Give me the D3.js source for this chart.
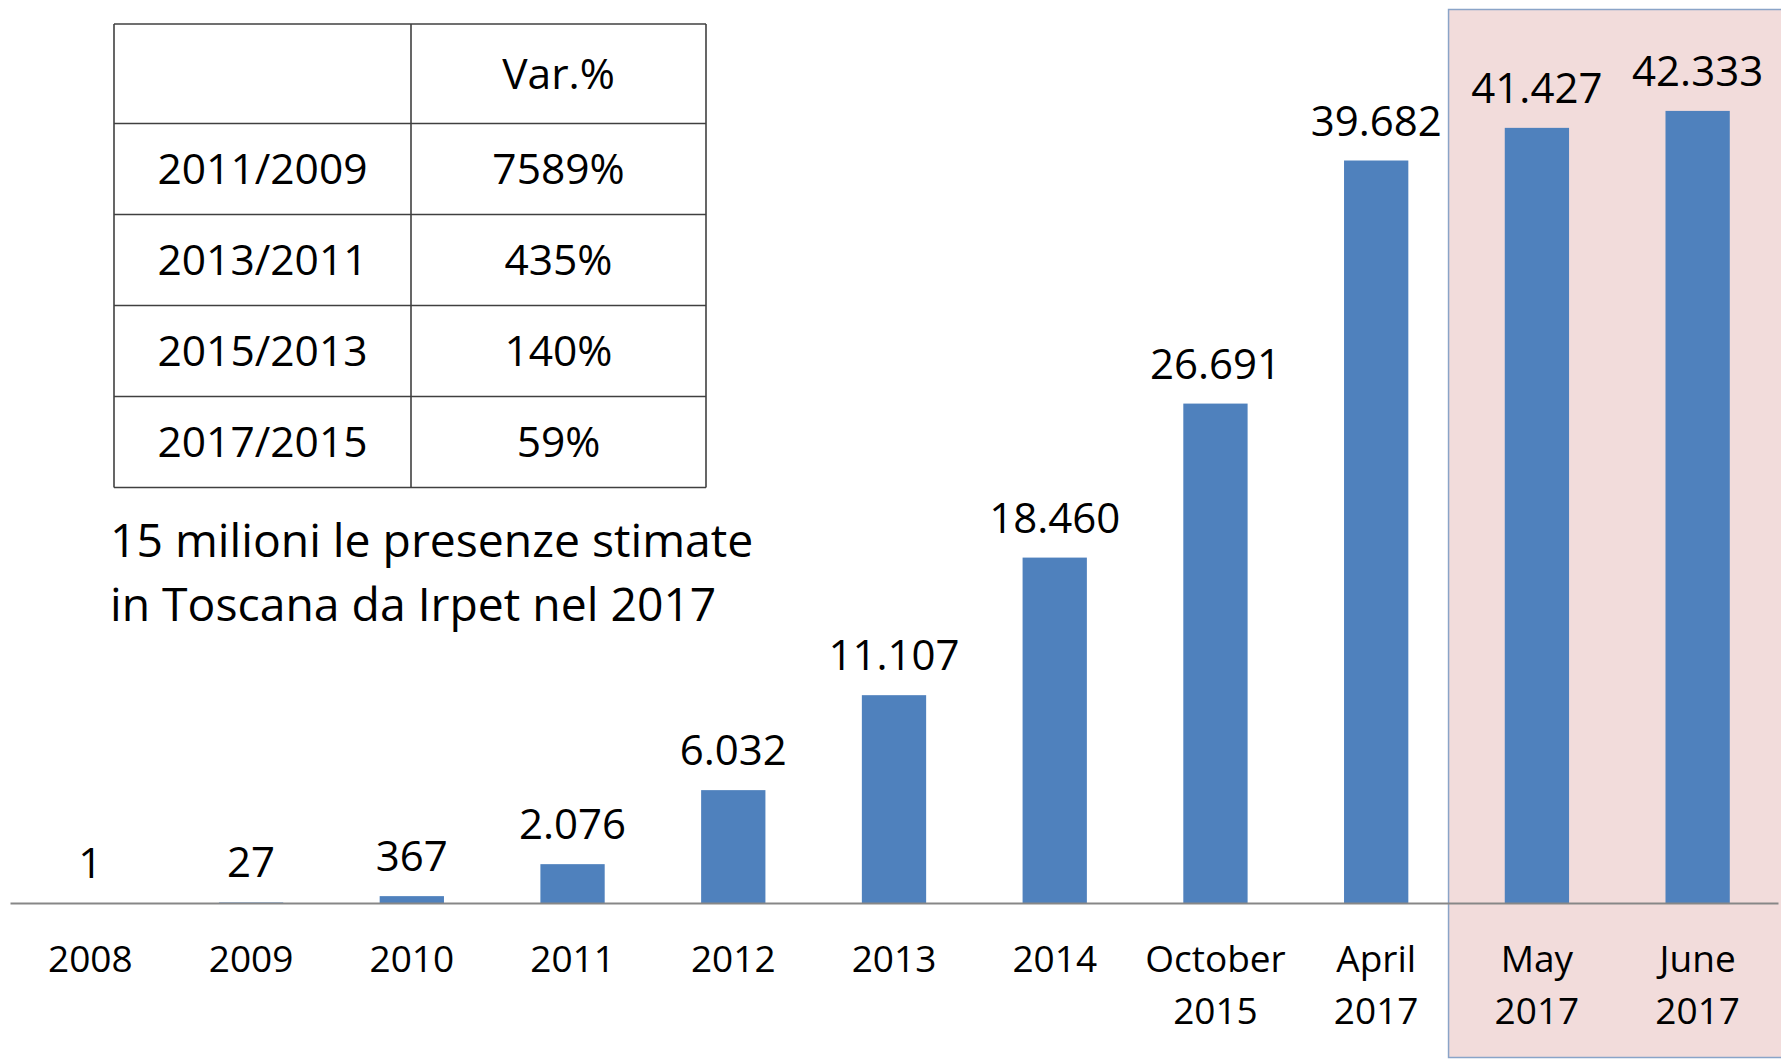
<!DOCTYPE html>
<html>
<head>
<meta charset="utf-8">
<script src="https://cdn.jsdelivr.net/npm/d3@7"></script>
<style>
  html, body { margin: 0; padding: 0; background: #fff; }
  svg { display: block; font-family: "Open Sans", sans-serif; }
</style>
</head>
<body>
<svg id="chart" width="1781" height="1060"></svg>
<script>
// data
var categories = ["2008", "2009", "2010", "2011", "2012", "2013", "2014",
  "October\n2015", "April\n2017", "May\n2017", "June\n2017"];
var presenze = [1, 27, 367, 2076, 6032, 11107, 18460, 26691, 39682, 41427, 42333];
var highlighted = ["May\n2017", "June\n2017"];

var tableHeader = "Var.%";
var tablePeriods = ["2011/2009", "2013/2011", "2015/2013", "2017/2015"];
var tableVar = ["7589%", "435%", "140%", "59%"];

var noteLines = ["15 milioni le presenze stimate", "in Toscana da Irpet nel 2017"];

var svg = d3.select("#chart"),
    width = +svg.attr("width"),
    height = +svg.attr("height"),
    baseY = 903;

var it = d3.formatLocale({decimal: ",", thousands: ".", grouping: [3], currency: ["€", ""]});
var fmt = it.format(",d");

var x = d3.scaleBand()
    .domain(categories)
    .range([10, 1778])
    .paddingInner(0.6)
    .paddingOuter(0.3);

var y = d3.scaleLinear()
    .domain([0, 45000])
    .range([baseY, 61]);

// highlight box behind the last months
var hlLeft = x(highlighted[0]) - (x.step() - x.bandwidth()) / 2 - 8;
svg.append("rect")
    .attr("x", hlLeft)
    .attr("y", 9.5)
    .attr("width", width - hlLeft + 5)
    .attr("height", 1048)
    .attr("fill", "#f2dcdb")
    .attr("stroke", "#8aa4c8")
    .attr("stroke-width", 1.5);

var g = svg.append("g");

g.selectAll(".bar")
  .data(presenze)
  .enter().append("rect")
    .attr("class", "bar")
    .attr("x", function(d, i) { return x(categories[i]); })
    .attr("y", function(d) { return y(d); })
    .attr("width", x.bandwidth())
    .attr("height", function(d) { return baseY - y(d); })
    .attr("fill", "#4f81bd");

g.selectAll(".val")
  .data(presenze)
  .enter().append("text")
    .attr("class", "val")
    .attr("x", function(d, i) { return x(categories[i]) + x.bandwidth() / 2; })
    .attr("y", function(d) { return y(d) - 25; })
    .attr("text-anchor", "middle")
    .attr("font-size", 42)
    .attr("fill", "#000")
    .text(function(d) { return fmt(d); });

// x axis
var axis = svg.append("g")
    .attr("transform", "translate(0," + baseY + ")")
    .call(d3.axisBottom(x).tickSize(0).tickSizeOuter(0));

axis.select(".domain")
    .attr("stroke", "#878787")
    .attr("stroke-width", 2);

axis.selectAll(".tick text").each(function(d) {
  var t = d3.select(this);
  t.text(null)
    .attr("y", null)
    .attr("dy", null)
    .attr("font-size", 37)
    .attr("font-family", "'Open Sans', sans-serif")
    .attr("fill", "#000");
  d.split("\n").forEach(function(line, k) {
    t.append("tspan")
      .attr("x", 0)
      .attr("y", 69 + k * 52)
      .text(line);
  });
});

// table of variations
var colX = [114, 411, 706],
    rowY = [24, 123.5, 214.5, 305.5, 396.5, 487.5];

var tbl = svg.append("g");
var cells = [[ "", tableHeader ]].concat(tablePeriods.map(function(p, i) { return [p, tableVar[i]]; }));

cells.forEach(function(row, r) {
  row.forEach(function(txt, c) {
    tbl.append("text")
      .attr("x", (colX[c] + colX[c + 1]) / 2)
      .attr("y", (rowY[r] + rowY[r + 1]) / 2 + 15)
      .attr("text-anchor", "middle")
      .attr("font-size", 42.5)
      .attr("fill", "#000")
      .text(txt);
  });
});

rowY.forEach(function(yy) {
  tbl.append("line")
    .attr("x1", colX[0]).attr("x2", colX[2])
    .attr("y1", yy).attr("y2", yy)
    .attr("stroke", "#404040").attr("stroke-width", 1.6);
});
colX.forEach(function(xx) {
  tbl.append("line")
    .attr("x1", xx).attr("x2", xx)
    .attr("y1", rowY[0]).attr("y2", rowY[rowY.length - 1])
    .attr("stroke", "#404040").attr("stroke-width", 1.6);
});

// note
svg.append("g").selectAll("text")
  .data(noteLines)
  .enter().append("text")
    .attr("x", 110)
    .attr("y", function(d, i) { return 557 + i * 64; })
    .attr("font-size", 46.3)
    .attr("fill", "#000")
    .text(function(d) { return d; });
</script>
</body>
</html>
